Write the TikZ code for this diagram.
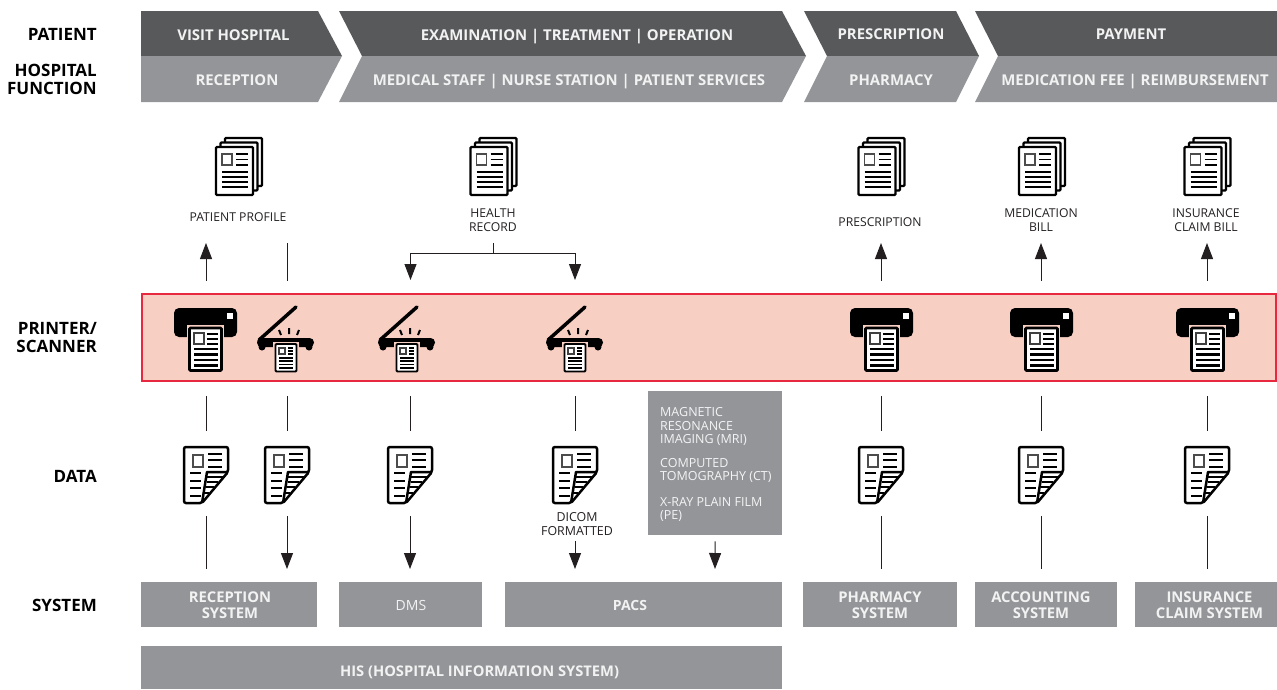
\documentclass[tikz,border=0pt]{standalone}
\usepackage{fontspec}
\setmainfont{Open Sans}
\usetikzlibrary{arrows.meta}
\definecolor{chevdark}{HTML}{58595B}
\definecolor{chevgrey}{HTML}{939598}
\definecolor{inkblack}{HTML}{231F20}
\definecolor{bandred}{HTML}{E8283F}
\definecolor{bandfill}{HTML}{F7CFC3}
\tikzset{
    rowlabel/.style={font=\fontsize{17}{18}\selectfont\bfseries, text=black, align=right, anchor=east, inner sep=0pt},
    headtext/.style={font=\fontsize{14.9}{15}\selectfont\bfseries, text=white!95!black, inner sep=0pt, anchor=base},
    captext/.style={font=\fontsize{12.2}{14}\selectfont, text=inkblack, align=center, inner sep=0pt},
    scantext/.style={font=\fontsize{12.5}{13.3}\selectfont, text=white!90!chevgrey, align=left, inner sep=0pt, anchor=north west},
    sysbox/.style={fill=chevgrey, inner sep=0pt, anchor=north west},
    systext/.style={text=white!95!black, font=\fontsize{14.8}{16}\selectfont\bfseries, align=center, inner sep=0pt},
    iconslot/.style={inner sep=0pt, minimum width=40pt},
    plainline/.style={draw=inkblack, line width=1pt},
    flowarrow/.style={draw=inkblack, line width=1pt, -{Stealth[length=16pt,width=12pt,inset=0pt]}},
    pagesheet/.style={draw=black, line width=2.4pt, fill=white, rounded corners=1pt},
    pics/docstack/.style={code={
        \path[pagesheet] (-14,0) rectangle (23,48);
        \path[pagesheet] (-18.5,4.5) rectangle (18.5,52.5);
        \path[pagesheet] (-23,9) rectangle (14,57);
        \draw[black!70, line width=1.6pt] (-17,16) rectangle (-7,27);
        \draw[black, line width=1.8pt] (-3,16) -- (9,16) (-3,21.5) -- (9,21.5) (-3,27) -- (9,27);
        \draw[black, line width=1.8pt] (-17,34) -- (9,34) (-17,39) -- (9,39) (-17,44) -- (9,44) (-17,49) -- (9,49);
    }},
    pics/printericon/.style={code={
        \fill[black, rounded corners=5pt] (-32,-30) rectangle (31,-1);
        \fill[white] (21,-25) rectangle (27,-19);
        \fill[bandfill] (-19,-13) rectangle (18,35);
        \path[pagesheet, line width=2.8pt] (-16.5,-10) rectangle (15.5,32.5);
        \draw[black!75, line width=2pt] (-12,-5) rectangle (-2,6);
        \draw[black, line width=2.6pt] (1,-4) -- (12,-4) (1,1) -- (12,1) (1,6) -- (12,6);
        \draw[black, line width=2.6pt] (-12,11) -- (12,11) (-12,16.5) -- (12,16.5) (-12,22) -- (12,22) (-12,27.5) -- (12,27.5);
    }},
    pics/scannericon/.style={code={
        \draw[black, line width=3.5pt, line cap=round] (10,-31) -- (-27,2);
        \fill[black, rounded corners=4.4pt] (-29,0) rectangle (28,9);
        \fill[black] (-24,9) circle (3.5pt) (23,9) circle (3.5pt);
        \draw[black, line width=2pt] (-7,-8) -- (-5,-3) (3,-10) -- (3,-4) (13,-8) -- (11,-3);
        \fill[bandfill] (-13,3.5) rectangle (13,36);
        \path[pagesheet, line width=1.8pt] (-10.5,6) rectangle (10.5,33.5);
        \draw[black!75, line width=1.4pt] (-7,10) rectangle (-1,16);
        \draw[black, line width=1.7pt] (2,10) -- (7,10) (2,13) -- (7,13) (2,16) -- (7,16);
        \draw[black, line width=1.7pt] (-7,20) -- (7,20) (-7,23.3) -- (7,23.3) (-7,26.6) -- (7,26.6) (-7,30) -- (7,30);
    }},
    pics/dataicon/.style={code={
        \draw[black, line width=2.5pt, fill=white, rounded corners=2pt] (-22,-28) -- (22,-28) -- (22,-3) -- (-4,28) -- (-22,28) -- cycle;
        \draw[black, line width=2.5pt, line join=round] (22,-3) -- (1,-3) -- (-4,28);
        \draw[black!70, line width=1.8pt] (-13,-20) rectangle (-3,-8);
        \draw[black, line width=2.5pt] (2,-21) -- (16,-21) (2,-15) -- (16,-15) (2,-8) -- (16,-8);
        \draw[black, line width=2.5pt] (-16,-2) -- (-5,-2) (-16,6) -- (-5,6) (-16,13) -- (-5,13) (-16,21) -- (-5,21);
        \draw[black, line width=1.8pt] (1,2) -- (17,2) (1,7) -- (12,7) (0,12) -- (8,12) (-1,18) -- (3,18);
    }},
}
\begin{document}
\begin{tikzpicture}[x=1pt, y=-1pt]
    \useasboundingbox (0,0) rectangle (1277,689);

    \fill[chevdark] (141,11) -- (318,11) -- (342,56) -- (141,56) -- cycle;
    \fill[chevgrey] (141,56) -- (342,56) -- (318,102) -- (141,102) -- cycle;
    \fill[chevdark] (339,11) -- (782,11) -- (806,56) -- (362,56) -- cycle;
    \fill[chevgrey] (362,56) -- (806,56) -- (782,102) -- (339,102) -- cycle;
    \fill[chevdark] (804,11) -- (956,11) -- (979,56) -- (827,56) -- cycle;
    \fill[chevgrey] (827,56) -- (979,56) -- (956,102) -- (804,102) -- cycle;
    \fill[chevdark] (975,11) -- (1277,11) -- (1277,56) -- (998,56) -- cycle;
    \fill[chevgrey] (998,56) -- (1277,56) -- (1277,102) -- (975,102) -- cycle;

    \node[headtext] (visit) at (233.5,40) {VISIT HOSPITAL};
    \node[headtext] (exam) at (577,40) {EXAMINATION | TREATMENT | OPERATION};
    \node[headtext] (presc) at (891,39.5) {PRESCRIPTION};
    \node[headtext] (pay) at (1131,39.5) {PAYMENT};
    \node[headtext] (recep) at (237,85) {RECEPTION};
    \node[headtext] (staff) at (569,85) {MEDICAL STAFF | NURSE STATION | PATIENT SERVICES};
    \node[headtext] (pharm) at (891,85) {PHARMACY};
    \node[headtext] (fee) at (1135,85) {MEDICATION FEE | REIMBURSEMENT};

    \node[rowlabel] (patient) at (97,34) {PATIENT};
    \node[rowlabel] (function) at (97,79.5) {HOSPITAL\\FUNCTION};
    \node[rowlabel] (printer) at (97,338) {PRINTER/\\SCANNER};
    \node[rowlabel] (data) at (97,476) {DATA};
    \node[rowlabel] (system) at (97,605) {SYSTEM};

    \draw[draw=bandred, fill=bandfill, line width=2.5pt] (142,294) rectangle (1276,381);

    \pic at (239,138) {docstack};
    \pic at (493.5,138) {docstack};
    \pic at (881.5,138) {docstack};
    \pic at (1042,138) {docstack};
    \pic at (1207.5,138) {docstack};

    \node[captext] (profile) at (238,217) {PATIENT PROFILE};
    \node[captext] (health) at (493,220) {HEALTH\\RECORD};
    \node[captext] (prescdoc) at (880,222) {PRESCRIPTION};
    \node[captext] (bill) at (1041,220) {MEDICATION\\BILL};
    \node[captext] (claim) at (1206,220) {INSURANCE\\CLAIM BILL};

    \pic at (206,338) {printericon};
    \pic at (286,338) {scannericon};
    \pic at (407,338) {scannericon};
    \pic at (575,338) {scannericon};
    \pic at (882,338) {printericon};
    \pic at (1042,338) {printericon};
    \pic at (1208,338) {printericon};

    \pic at (206,475) {dataicon};
    \pic at (287,475) {dataicon};
    \pic at (410,475) {dataicon};
    \pic at (575,475) {dataicon};
    \pic at (881,475) {dataicon};
    \pic at (1041,475) {dataicon};
    \pic at (1207,475) {dataicon};

    \node[iconslot, minimum height=115pt] (printa) at (206,338.5) {};
    \node[iconslot, minimum height=115pt] (scana) at (287,338.5) {};
    \node[iconslot, minimum height=115pt] (scanb) at (410,338.5) {};
    \node[iconslot, minimum height=115pt] (scanc) at (575,338.5) {};
    \node[iconslot, minimum height=115pt] (printb) at (881,338.5) {};
    \node[iconslot, minimum height=115pt] (printc) at (1041,338.5) {};
    \node[iconslot, minimum height=115pt] (printd) at (1207,338.5) {};

    \node[iconslot, minimum height=85pt] (dataa) at (206,473.5) {};
    \node[iconslot, minimum height=85pt] (datab) at (287,473.5) {};
    \node[iconslot, minimum height=85pt] (datac) at (410,473.5) {};
    \node[iconslot, minimum height=85pt] (datad) at (575,473.5) {};
    \node[iconslot, minimum height=85pt] (datae) at (881,473.5) {};
    \node[iconslot, minimum height=85pt] (dataf) at (1041,473.5) {};
    \node[iconslot, minimum height=85pt] (datag) at (1207,473.5) {};

    \coordinate (topa) at (206,243);
    \coordinate (topb) at (287,243);
    \coordinate (topc) at (493,243);
    \coordinate (topd) at (881,243);
    \coordinate (tope) at (1041,243);
    \coordinate (topf) at (1207,243);
    \coordinate (splitc) at (493,253.5);
    \coordinate (lefthead) at (410.5,280);
    \coordinate (righthead) at (575,280);

    \draw[flowarrow] (printa.north) -- (topa);
    \draw[plainline] (scana.north) -- (topb);
    \draw[plainline] (topc) -- (splitc);
    \draw[flowarrow] (splitc) -| (lefthead);
    \draw[flowarrow] (splitc) -| (righthead);
    \draw[flowarrow] (printb.north) -- (topd);
    \draw[flowarrow] (printc.north) -- (tope);
    \draw[flowarrow] (printd.north) -- (topf);

    \draw[plainline] (printa.south) -- (dataa.north);
    \draw[plainline] (scana.south) -- (datab.north);
    \draw[plainline] (scanb.south) -- (datac.north);
    \draw[plainline] (scanc.south) -- (datad.north);
    \draw[plainline] (printb.south) -- (datae.north);
    \draw[plainline] (printc.south) -- (dataf.north);
    \draw[plainline] (printd.south) -- (datag.north);

    \node[captext, font=\fontsize{12.4}{13.5}\selectfont] (dicom) at (577,524) {DICOM\\FORMATTED};
    \node[sysbox, minimum width=134pt, minimum height=144pt] (scans) at (648,391) {};
    \node[scantext] (mri) at (660,407.5) {MAGNETIC\\RESONANCE\\IMAGING (MRI)};
    \node[scantext] (ct) at (660,458) {COMPUTED\\TOMOGRAPHY (CT)};
    \node[scantext] (xray) at (660,497) {X-RAY PLAIN FILM\\(PE)};

    \node[sysbox, minimum width=176pt, minimum height=45pt] (recsys) at (141,582) {};
    \node[sysbox, minimum width=143pt, minimum height=45pt] (dms) at (339,582) {};
    \node[sysbox, minimum width=277pt, minimum height=45pt] (pacs) at (505,582) {};
    \node[sysbox, minimum width=154pt, minimum height=45pt] (pharmsys) at (803,582) {};
    \node[sysbox, minimum width=142pt, minimum height=45pt] (acctsys) at (975,582) {};
    \node[sysbox, minimum width=142pt, minimum height=45pt] (claimsys) at (1135,582) {};
    \node[sysbox, minimum width=641pt, minimum height=43pt] (his) at (141,646) {};

    \node[systext] (recsystext) at (230,605.5) {RECEPTION\\SYSTEM};
    \node[systext, font=\fontsize{14}{16}\selectfont] (dmstext) at (411,605.5) {DMS};
    \node[systext, font=\fontsize{14}{16}\selectfont\bfseries] (pacstext) at (630,605) {PACS};
    \node[systext] (pharmsystext) at (880,605.5) {PHARMACY\\SYSTEM};
    \node[systext] (acctsystext) at (1041,605.5) {ACCOUNTING\\SYSTEM};
    \node[systext] (claimsystext) at (1209.5,605.5) {INSURANCE\\CLAIM SYSTEM};
    \node[systext, font=\fontsize{14.7}{16}\selectfont\bfseries] (histext) at (479.5,672.5) {HIS (HOSPITAL INFORMATION SYSTEM)};

    \coordinate (enda) at (206,569);
    \coordinate (endb) at (287,569);
    \coordinate (endc) at (410,569);
    \coordinate (endd) at (575,569);
    \coordinate (endm) at (715,569);
    \coordinate (ende) at (881,569);
    \coordinate (endf) at (1041,569);
    \coordinate (endg) at (1207,569);
    \coordinate (dicomout) at (575,541);

    \draw[plainline] (dataa.south) -- (enda);
    \draw[flowarrow] (datab.south) -- (endb);
    \draw[flowarrow] (datac.south) -- (endc);
    \draw[flowarrow] (dicomout) -- (endd);
    \draw[flowarrow, shorten <=6pt] (scans.south) -- (endm);
    \draw[plainline] (datae.south) -- (ende);
    \draw[plainline] (dataf.south) -- (endf);
    \draw[plainline] (datag.south) -- (endg);
\end{tikzpicture}
\end{document}
